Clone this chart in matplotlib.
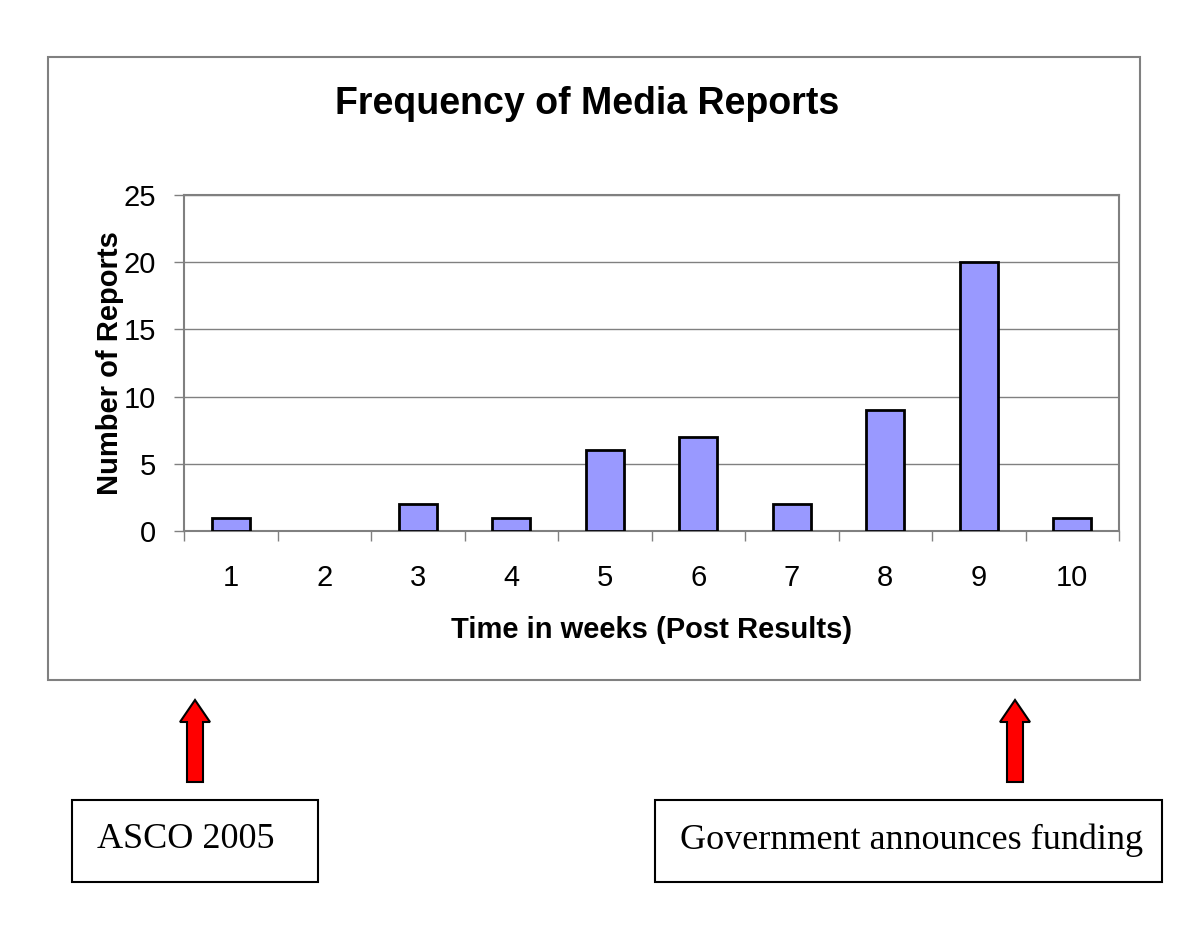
import matplotlib
matplotlib.use("Agg")
import matplotlib.pyplot as plt
from matplotlib.patches import Rectangle, FancyArrow
import numpy as np

# chart data
weeks = [1, 2, 3, 4, 5, 6, 7, 8, 9, 10]
reports = [1, 0, 2, 1, 6, 7, 2, 9, 20, 1]
y_ticks = [0, 5, 10, 15, 20, 25]

plt.rcParams['font.family'] = ['Liberation Sans', 'DejaVu Sans']

W, H = 1200, 927
fig = plt.figure(figsize=(W / 100, H / 100), dpi=100)
fig.patch.set_facecolor('white')

def px_box(x0, y0, x1, y1):
    # pixel box (top-left origin) -> figure fraction [l, b, w, h]
    return [x0 / W, 1 - y1 / H, (x1 - x0) / W, (y1 - y0) / H]

# outer chart border
fig.add_artist(Rectangle((48 / W, 1 - 680 / H), (1140 - 48) / W, (680 - 57) / H,
                         transform=fig.transFigure, fill=False,
                         edgecolor='#808080', linewidth=1.5))

ax = fig.add_axes(px_box(184, 195, 1119, 531))
# zero-height bars are not outlined in the original
edge_w = [2 if r > 0 else 0 for r in reports]
ax.bar(weeks, reports, width=0.41, color='#9999FF', edgecolor='black',
       linewidth=edge_w, zorder=3)

ax.set_xlim(0.5, 10.5)
ax.set_ylim(0, 25)
ax.set_yticks(y_ticks)
ax.set_xticks(weeks)
ax.set_xticks(np.arange(0.5, 11, 1), minor=True)
ax.tick_params(axis='x', which='major', length=0, pad=24, labelsize=21)
ax.tick_params(axis='x', which='minor', length=7, color='#808080', width=1)
ax.tick_params(axis='y', which='major', length=7, color='#808080', width=1,
               pad=13, labelsize=21)
ax.yaxis.grid(True, color='#808080', linewidth=1)
ax.set_axisbelow(True)
for s in ax.spines.values():
    s.set_color('#808080')
    s.set_linewidth(1.5)

ax.set_xlabel('Time in weeks (Post Results)', fontsize=21, fontweight='bold',
              va='center')
ax.set_ylabel('Number of Reports', fontsize=21, fontweight='bold', va='center')
ax.xaxis.set_label_coords(0.5, (531 - 630) / 336)
ax.yaxis.set_label_coords((110 - 184) / 935, 0.5)
fig.text(587 / W, 1 - 104 / H, 'Frequency of Media Reports', fontsize=27,
         fontweight='bold', ha='center', va='center')

# red arrows below chart
inch = fig.dpi_scale_trans
for xc in [195, 1015]:
    fig.add_artist(FancyArrow(xc / 100, (H - 782) / 100, 0, 0.82,
                              width=0.16, head_width=0.30, head_length=0.22,
                              length_includes_head=True, transform=inch,
                              facecolor='#FF0000', edgecolor='black',
                              linewidth=1.5))

# annotation boxes
notes = [
    ('ASCO 2005', 72, 318, 97, 'left'),
    ('Government announces funding', 655, 1162, 912, 'center'),
]
for label, x0, x1, tx, ha in notes:
    fig.add_artist(Rectangle((x0 / 100, (H - 882) / 100), (x1 - x0) / 100, 0.82,
                             transform=inch, fill=False, edgecolor='black',
                             linewidth=1.5))
    fig.text(tx / W, 1 - 840 / H, label, fontsize=26, ha=ha, va='center',
             family=['Liberation Serif', 'DejaVu Serif'])

fig.savefig('out.png', dpi=100)
